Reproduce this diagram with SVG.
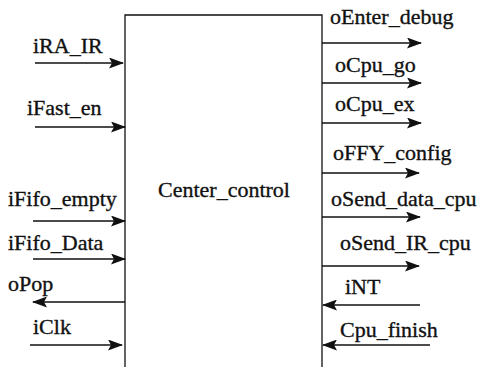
<svg xmlns="http://www.w3.org/2000/svg" width="480" height="367" viewBox="0 0 480 367">
<style>
.t{font-family:"Liberation Serif","Times New Roman",serif;font-size:22px;fill:#111;stroke:#111;stroke-width:0.35}
.w{stroke:#111;stroke-width:1.3;fill:none}
</style>
<defs>
<marker id="ah" markerWidth="15" markerHeight="11" refX="14" refY="5.5" orient="auto" markerUnits="userSpaceOnUse">
<path d="M0,0 L15,5.5 L0,11 L3,5.5 Z" fill="#111"/>
</marker>
</defs>
<rect width="480" height="367" fill="#fff"/>
<g id="center_control">
<path class="w" d="M125,367 V15 H322 V367"/>
<text class="t" x="158" y="197">Center_control</text>
</g>
<g id="labels" class="t">
<text x="33" y="53">iRA_IR</text>
<text x="27" y="115">iFast_en</text>
<text x="8" y="206">iFifo_empty</text>
<text x="8" y="250">iFifo_Data</text>
<text x="8" y="291">oPop</text>
<text x="33" y="334">iClk</text>
<text x="330" y="24">oEnter_debug</text>
<text x="335" y="72">oCpu_go</text>
<text x="335" y="111">oCpu_ex</text>
<text x="333" y="160">oFFY_config</text>
<text x="331" y="206">oSend_data_cpu</text>
<text x="340" y="250">oSend_IR_cpu</text>
<text x="345" y="294">iNT</text>
<text x="340" y="337">Cpu_finish</text>
</g>
<g id="connectors" class="w" marker-end="url(#ah)">
<line x1="35" y1="63" x2="123" y2="63"/>
<line x1="35" y1="127" x2="125" y2="127"/>
<line x1="33" y1="221" x2="125" y2="221"/>
<line x1="33" y1="259" x2="125" y2="259"/>
<line x1="125" y1="302" x2="33" y2="302"/>
<line x1="30" y1="345" x2="122" y2="345"/>
<line x1="322" y1="43" x2="421" y2="43"/>
<line x1="322" y1="83" x2="421" y2="83"/>
<line x1="322" y1="123" x2="421" y2="123"/>
<line x1="322" y1="173" x2="419" y2="173"/>
<line x1="322" y1="217" x2="420" y2="217"/>
<line x1="322" y1="266" x2="419" y2="266"/>
<line x1="420" y1="305" x2="323" y2="305"/>
<line x1="430" y1="345" x2="323" y2="345"/>
</g>
</svg>
